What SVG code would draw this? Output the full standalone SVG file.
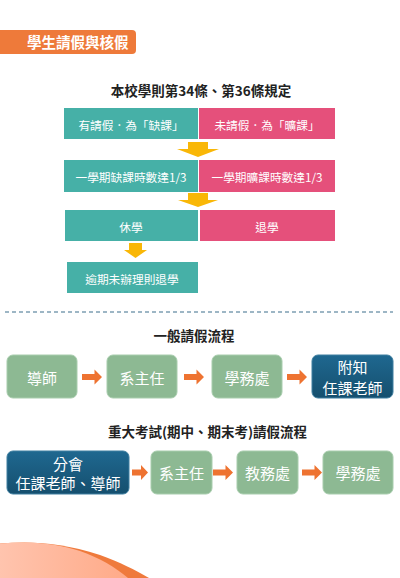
<svg xmlns="http://www.w3.org/2000/svg" width="400" height="578" viewBox="0 0 400 578">
<style>
text{font-family:"Noto Sans CJK TC","Noto Sans CJK SC",sans-serif;}
.t{fill:#fff;font-size:11.7px;text-anchor:middle;dominant-baseline:central;}
.f{fill:#fff;font-size:15px;text-anchor:middle;dominant-baseline:central;}
.h{fill:#222;font-size:13.5px;font-weight:bold;text-anchor:middle;}
.teal{fill:#46B0A7;}
.pink{fill:#E5507B;}
.green{fill:#8DB993;stroke:#A8CDAD;stroke-width:1;}
.blue{fill:url(#bg);stroke:#3F7FA0;stroke-width:1;}
.ya{fill:#F9B707;}
.oa{fill:#EE7331;}
</style>
<defs>
<linearGradient id="bg" x1="0" y1="0" x2="0" y2="1"><stop offset="0" stop-color="#1F6890"/><stop offset="1" stop-color="#154F6E"/></linearGradient>
<linearGradient id="wg" x1="0" y1="0" x2="1" y2="0"><stop offset="0" stop-color="#FFC4AE"/><stop offset="1" stop-color="#FFAA88"/></linearGradient>
</defs>
<rect width="400" height="578" fill="#fff"/>

<g id="header">
<rect x="-6" y="30" width="142" height="24" rx="4" fill="#EE7A3A"/>
<text x="27" y="48" font-size="14.5" font-weight="bold" fill="#fff">學生請假與核假</text>
</g>

<text class="h" x="201" y="96">本校學則第34條、第36條規定</text>

<g id="n1"><rect class="teal" x="64" y="108" width="134" height="31"/><text class="t" x="131" y="124">有請假．為「缺課」</text></g>
<g id="n2"><rect class="pink" x="199" y="108" width="136" height="31"/><text class="t" x="267" y="124">未請假．為「曠課」</text></g>
<g id="n3"><rect class="teal" x="64" y="160" width="134" height="32"/><text class="t" x="131" y="176">一學期缺課時數達1/3</text></g>
<g id="n4"><rect class="pink" x="199" y="160" width="136" height="32"/><text class="t" x="267" y="176">一學期曠課時數達1/3</text></g>
<g id="n5"><rect class="teal" x="65" y="210" width="133" height="31"/><text class="t" x="131" y="226">休學</text></g>
<g id="n6"><rect class="pink" x="200" y="210" width="135" height="31"/><text class="t" x="267" y="226">退學</text></g>
<g id="n7"><rect class="teal" x="67" y="262" width="131" height="31"/><text class="t" x="132" y="278">逾期未辦理則退學</text></g>

<line x1="5" y1="312" x2="393" y2="312" stroke="#7E9FB3" stroke-width="1.3" stroke-dasharray="4 3"/>

<text class="h" x="194" y="341" font-size="15">一般請假流程</text>
<g id="m1"><rect class="green" x="7" y="355" width="70" height="43" rx="6"/><text class="f" x="42" y="377">導師</text></g>
<g id="m2"><rect class="green" x="107" y="355" width="70" height="43" rx="6"/><text class="f" x="142" y="377">系主任</text></g>
<g id="m3"><rect class="green" x="212" y="355" width="70" height="43" rx="6"/><text class="f" x="247" y="377">學務處</text></g>
<g id="m4"><rect class="blue" x="312" y="355" width="81" height="43" rx="6"/><text class="f" x="352.5" y="366">附知</text><text class="f" x="352.5" y="387">任課老師</text></g>

<text class="h" x="207.5" y="437" font-size="14">重大考試(期中、期末考)請假流程</text>
<g id="k1"><rect class="blue" x="7" y="451" width="122" height="43" rx="6"/><text class="f" x="68" y="463">分會</text><text class="f" x="68" y="482">任課老師、導師</text></g>
<g id="k2"><rect class="green" x="151" y="451" width="61" height="43" rx="6"/><text class="f" x="181.5" y="472.5">系主任</text></g>
<g id="k3"><rect class="green" x="237" y="451" width="61" height="43" rx="6"/><text class="f" x="267.5" y="472.5">教務處</text></g>
<g id="k4"><rect class="green" x="323" y="451" width="70" height="43" rx="6"/><text class="f" x="358" y="472.5">學務處</text></g>

<g id="connectors">
<polygon class="ya" points="188,142 208,142 208,149 219,149 198,157 177,149 188,149"/>
<polygon class="ya" points="188,193 208,193 208,200 218,200 198,207 178,200 188,200"/>
<polygon class="ya" points="129,243 142,243 142,250 147,250 135.5,258 124,250 129,250"/>
<path class="oa" d="M82,374 H94.5 V369.5 L102,377 L94.5,384.5 V380 H82 Z"/>
<path class="oa" d="M184,374 H196.5 V369.5 L204,377 L196.5,384.5 V380 H184 Z"/>
<path class="oa" d="M287,374 H299.5 V369.5 L307,377 L299.5,384.5 V380 H287 Z"/>
<path class="oa" d="M132,469.5 H141 V465 L148,472.5 L141,480 V475.5 H132 Z"/>
<path class="oa" d="M213,469.5 H225.5 V465 L233,472.5 L225.5,480 V475.5 H213 Z"/>
<path class="oa" d="M302,469.5 H314.5 V465 L322,472.5 L314.5,480 V475.5 H302 Z"/>
</g>

<path d="M0,543.5 C30,541 60,542 100,555 C120,562 135,570 149,578 L0,578 Z" fill="#EF7A3C"/>
<path d="M0,543.5 C30,541 55,543 80,551 C100,558 115,567 128,578 L0,578 Z" fill="url(#wg)"/>
</svg>
